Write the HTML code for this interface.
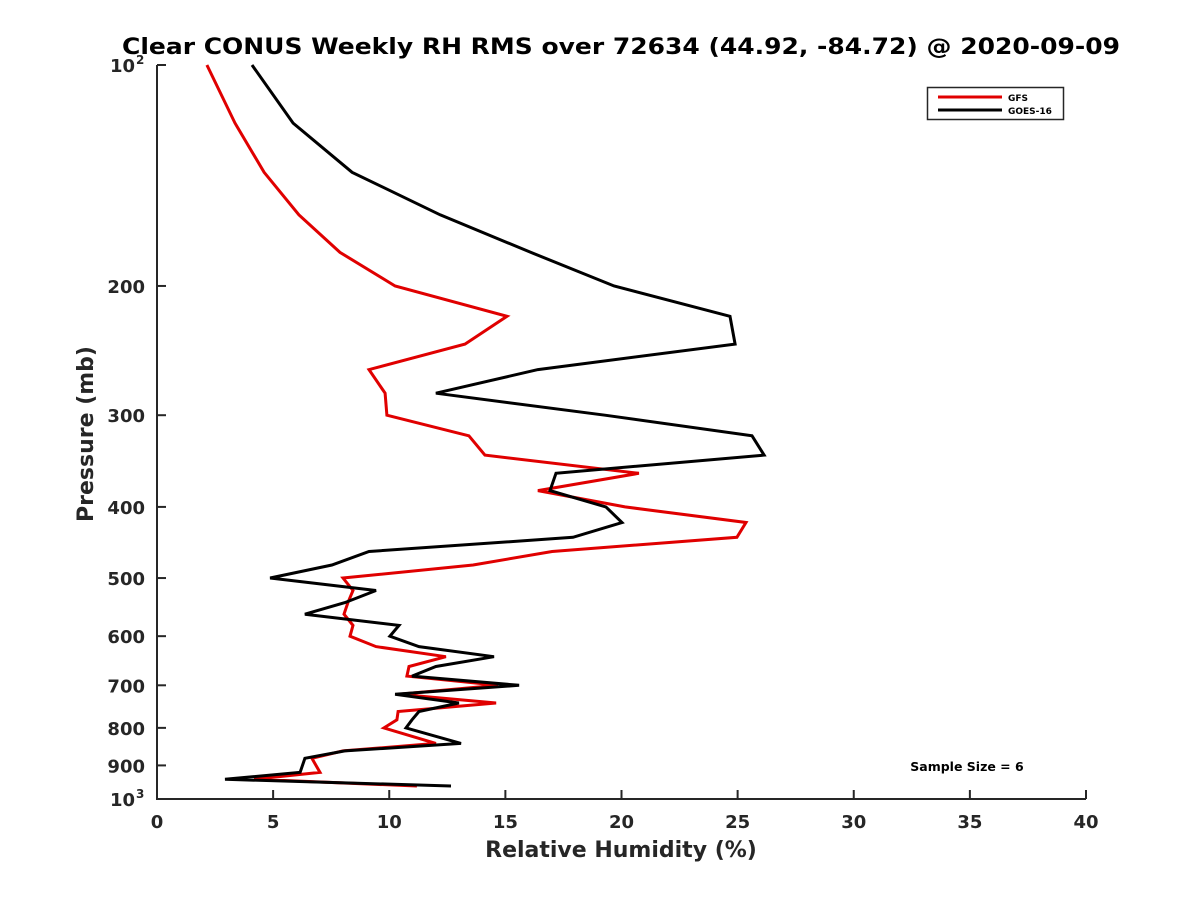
<!DOCTYPE html>
<html><head><meta charset="utf-8"><style>
html,body{margin:0;padding:0;background:#fff;}
svg{display:block;font-family:"DejaVu Sans","Liberation Sans",sans-serif;}
</style></head><body>
<svg id="chart" width="1200" height="900" viewBox="0 0 1200 900">
<rect width="1200" height="900" fill="#fff"/>
<text x="621" y="54" text-anchor="middle" font-size="22" font-weight="bold" fill="#000" textLength="998" lengthAdjust="spacingAndGlyphs">Clear CONUS Weekly RH RMS over 72634 (44.92, -84.72) @ 2020-09-09</text>
<g id="axes"></g>
<g id="series"></g>
<text x="621" y="857" text-anchor="middle" font-size="22" font-weight="bold" fill="#262626">Relative Humidity (%)</text>
<text transform="translate(93,434) rotate(-90)" text-anchor="middle" font-size="22" font-weight="bold" fill="#262626">Pressure (mb)</text>
<text x="967" y="771" text-anchor="middle" font-size="12.5" font-weight="bold" fill="#000">Sample Size = 6</text>
<g>
<rect x="927.5" y="87.5" width="136" height="32" fill="#fff" stroke="#262626" stroke-width="1.5"/>
<line x1="938" y1="97" x2="1002" y2="97" stroke="#e00000" stroke-width="3"/>
<text x="1008" y="101" font-size="9" font-weight="bold">GFS</text>
<line x1="938" y1="110" x2="1002" y2="110" stroke="#000" stroke-width="3"/>
<text x="1008" y="114" font-size="9" font-weight="bold">GOES-16</text>
</g>
</svg>
<script>
const pressures=[100,120,140,160,180,200,220,240,260,280,300,320,340,360,380,400,420,440,460,480,500,520,540,560,580,600,620,640,660,680,700,720,740,760,780,800,840,860,880,920,940,960];
const gfsRms=[2.15,3.36,4.61,6.11,7.88,10.25,15.07,13.26,9.13,9.82,9.90,13.43,14.12,20.75,16.40,20.15,25.36,24.97,17.01,13.61,8.01,8.44,8.22,8.05,8.44,8.31,9.43,12.44,10.85,10.76,14.68,10.42,14.60,10.38,10.33,9.77,12.01,8.01,6.67,7.02,4.18,11.19];
const goesRms=[4.09,5.86,8.40,12.19,16.10,19.68,24.67,24.89,16.40,12.01,19.29,25.62,26.14,17.18,16.92,19.33,20.02,17.91,9.13,7.53,4.87,9.43,8.09,6.37,10.42,10.03,11.28,14.51,12.01,10.98,15.59,10.25,13.00,11.28,10.98,10.72,13.09,8.09,6.37,6.16,2.93,12.66];
const xTicks=[0,5,10,15,20,25,30,35,40];
const yTicks=[200,300,400,500,600,700,800,900];
const NS='http://www.w3.org/2000/svg';
const X0=157,X1=1086,Y0=65,Y1=799;
function xs(v){return X0+(v/40)*(X1-X0);}
function ys(p){return Y0+(Math.log10(p)-2)*(Y1-Y0);}
function mk(tag,attrs,parent){const e=document.createElementNS(NS,tag);for(const k in attrs)e.setAttribute(k,attrs[k]);parent.appendChild(e);return e;}
const ax=document.getElementById('axes');
let l=mk('line',{x1:X0,y1:Y0,x2:X0,y2:Y1+1,stroke:'#262626','stroke-width':2},ax);


l=mk('line',{x1:X0-1,y1:Y1,x2:X1,y2:Y1,stroke:'#262626','stroke-width':2},ax);


xTicks.forEach(v=>{
 const t=mk('line',{x1:xs(v),y1:Y1,x2:xs(v),y2:Y1-9,stroke:'#262626','stroke-width':2},ax);
 
 
 const tx=mk('text',{x:xs(v),y:Y1+29,'text-anchor':'middle','font-size':18,'font-weight':'bold',fill:'#262626'},ax);
 tx.textContent=v;
 
 
});
[100].concat(yTicks,[1000]).forEach(p=>{
 const t=mk('line',{x1:X0,y1:ys(p),x2:X0+9,y2:ys(p),stroke:'#262626','stroke-width':2},ax);
 
 
});
yTicks.forEach(p=>{
 const tx=mk('text',{x:X0-12,y:ys(p)+7,'text-anchor':'end','font-size':18,'font-weight':'bold',fill:'#262626'},ax);
 tx.textContent=p;
 
 
});
[[100,'2'],[1000,'3']].forEach(([p,e])=>{
 const tx=mk('text',{x:X0-22,y:ys(p)+7,'text-anchor':'end','font-size':18,'font-weight':'bold',fill:'#262626'},ax);
 tx.textContent='10';
 
 
 const sp=mk('text',{x:X0-21,y:ys(p)-1,'font-size':12,'font-weight':'bold',fill:'#262626'},ax);
 sp.textContent=e;
 
 
});
const sg=document.getElementById('series');
function line(vals,color,name){
 const pts=vals.map((v,i)=>xs(v).toFixed(1)+','+ys(pressures[i]).toFixed(1)).join(' ');
 const pl=mk('polyline',{points:pts,fill:'none',stroke:color,'stroke-width':3,'stroke-linejoin':'miter'},sg);
 
 
}
line(gfsRms,'#e00000','gfs-line');
line(goesRms,'#000000','goes16-line');
</script>
</body></html>
